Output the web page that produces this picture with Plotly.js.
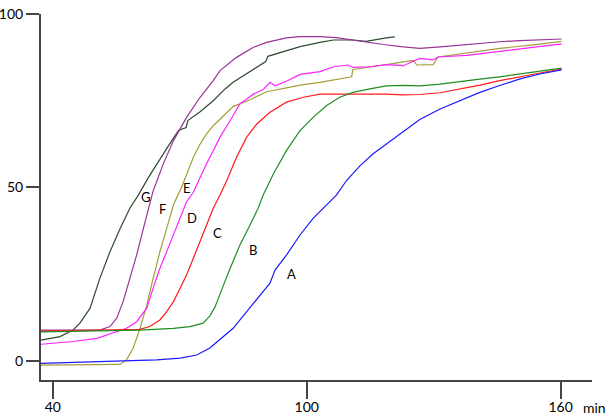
<!DOCTYPE html>
<html>
<head>
<meta charset="utf-8">
<script src="https://cdn.plot.ly/plotly-3.0.1.min.js"></script>
<style>html,body{margin:0;padding:0;background:#fff;}#chart{width:611px;height:416px;}</style>
</head>
<body>
<div id="chart"></div>
<script>
// Time (min) and signal values
var xA = [37.2, 45, 56.6, 64.5, 70.1, 74, 77.1, 79.5, 82.6, 85.8, 88.9, 91.3, 92.5, 95.2, 98.4, 101.5, 104.7, 107, 109.4, 112.6, 115.7, 118.8, 122, 126.7, 131.5, 136.2, 140.9, 145.6, 150.4, 155.1, 160.2];
var yA = [-0.7, -0.4, 0, 0.3, 0.8, 1.7, 3.7, 6.1, 9.4, 14.2, 19, 22.4, 26.2, 30.5, 36.3, 41.1, 45, 47.8, 52, 56.3, 59.7, 62.5, 65.2, 69.6, 72.6, 75.1, 77.4, 79.4, 81.3, 82.7, 83.9];

var xB = [37.2, 50, 60.6, 68.5, 72.4, 75.5, 77.1, 78.3, 79.5, 80.7, 81.9, 84.2, 86.6, 88.5, 89.7, 92.1, 95.2, 98.4, 101.5, 104.7, 107.8, 110.9, 114.9, 118.8, 122.8, 126.7, 131.5, 136.2, 140.9, 145.6, 150.4, 155.1, 160.2];
var yB = [8.4, 8.7, 8.9, 9.4, 9.9, 10.9, 13, 15.5, 19.5, 23, 26.7, 33.4, 39.2, 44, 47.8, 53.9, 60.6, 66.4, 70.2, 73.6, 76, 77.4, 78.4, 79.3, 79.4, 79.3, 79.8, 80.4, 81.2, 81.9, 82.7, 83.5, 84.4];

var xC = [37.2, 50, 60.6, 62.9, 65.3, 66.9, 68.5, 70.1, 71.6, 73.2, 74.8, 76.3, 77.9, 79.5, 81.1, 83.4, 85.8, 88.2, 91.3, 95.2, 99.2, 103.1, 107, 110.9, 114.9, 118.8, 122.8, 126.7, 131.5, 136.2, 140.9, 145.6, 150.4, 155.1, 160.2];
var yC = [8.6, 8.9, 9.1, 9.9, 11.8, 14.2, 17.1, 21, 24.8, 29.6, 34.4, 39.2, 44, 47.8, 52, 58.7, 64.5, 68.3, 71.7, 74.6, 76, 76.9, 76.9, 77.1, 76.9, 76.9, 76.7, 76.8, 77.3, 78.3, 79.5, 80.8, 82, 83, 84.1];

var xD = [37.2, 44.8, 50.4, 54.3, 57.4, 59.8, 62.2, 63.7, 65.3, 66.9, 68.5, 70.1, 71.6, 73.2, 74.8, 76.3, 77.9, 79.5, 81.9, 84.2, 87.4, 89.7, 91.3, 92.5, 95.2, 98.4, 103.1, 106.3, 109.8, 110.9, 114.9, 118.8, 122.8, 125.2, 126.7, 129.9, 131, 137.8, 145.6, 153.5, 160.2];
var yD = [4.8, 5.6, 6.5, 8, 9.4, 11.3, 15.2, 21, 26.7, 31.5, 36.3, 41.1, 45.9, 48.6, 52.9, 56.8, 60.6, 64.5, 69.3, 74.1, 76.9, 78.2, 80.3, 79.3, 80.6, 82.6, 83.4, 84.8, 85.3, 84.6, 84.8, 85.4, 85.1, 86.5, 87.2, 86.8, 87.6, 88.1, 89.3, 90.4, 91.4];

var xE = [37.2, 50, 55.9, 57.4, 59, 60.6, 62.2, 63.7, 65.3, 66.9, 68.5, 70.4, 71.6, 73.2, 74.8, 76.3, 77.9, 79.9, 82.6, 86.6, 90.5, 95.2, 98.4, 103.1, 106.3, 110.6, 110.9, 114.9, 118.8, 122.8, 125.2, 126, 129.9, 131, 137.8, 145.6, 153.5, 160.2];
var yE = [-1.2, -1.2, -1.0, 0.3, 3.7, 9.4, 16.1, 23.8, 31.5, 38.2, 45, 50, 53.9, 58.7, 62.5, 65.4, 67.8, 70.2, 73.3, 75.3, 77.6, 78.7, 79.5, 80.3, 81, 81.9, 84, 84.6, 85.4, 86.2, 86.6, 85.3, 85.4, 87.6, 88.7, 90.1, 91.1, 92.1];

var xF = [37.2, 51.1, 53.5, 55.1, 56.6, 58.2, 59.8, 61.4, 62.9, 63.7, 66.1, 68.5, 71.6, 74.8, 77.9, 79.5, 83.4, 87.4, 90.5, 95.2, 98.4, 103.1, 107, 110.2, 114.9, 118.1, 122.8, 126.7, 131.5, 136.2, 140.9, 145.6, 150.4, 155.1, 160.2];
var yF = [8.9, 8.9, 9.9, 12.3, 17.1, 23.8, 30.5, 38.2, 45, 49, 56.8, 63.5, 70.2, 76, 80.8, 83.7, 87.5, 90.4, 91.8, 93.1, 93.5, 93.5, 93.2, 92.6, 91.9, 91.2, 90.5, 90.1, 90.5, 91, 91.6, 92, 92.3, 92.6, 92.8];

var xG = [37.2, 41.7, 44.8, 46.4, 48.8, 49.6, 51.1, 53.5, 55.9, 58.2, 60.2, 62.6, 65, 67.3, 69.7, 71.5, 71.9, 74.8, 77.9, 80.7, 82.6, 85.8, 90.3, 90.8, 95.2, 98.4, 103.1, 106.3, 110.9, 114, 118.8, 120.8];
var yG = [6.0, 7.0, 8.9, 10.9, 15.2, 18.1, 23.8, 31.5, 38.2, 44, 47.8, 52.9, 57.7, 62, 66.4, 67.3, 69.3, 71.8, 75, 78.4, 80.3, 82.8, 86.3, 87.8, 89.4, 90.6, 91.8, 92.5, 92.5, 92.1, 93.1, 93.4];

var seriesNames = ['A', 'B', 'C', 'D', 'E', 'F', 'G'];
var xTicks = [40, 100, 160];
var yTicks = [0, 50, 100];

var colors = ['#1a1aff', '#1f8f1f', '#ff1a1a', '#ff22ff', '#a39c3a', '#993399', '#2c4a2c'];
var xs = [xA, xB, xC, xD, xE, xF, xG];
var ys = [yA, yB, yC, yD, yE, yF, yG];

var traces = [];
for (var i = 6; i >= 0; i--) {
  traces.push({
    x: xs[i], y: ys[i], name: seriesNames[i],
    type: 'scatter', mode: 'lines',
    line: {color: colors[i], width: 1.2},
    hoverinfo: 'skip'
  });
}

var labelFont = {family: 'Lato, "Liberation Sans", sans-serif', size: 13, color: '#000'};
var labelPos = {A: [96.5, 25.1], B: [87.3, 32.0], C: [79.0, 36.9], D: [72.9, 41.2], E: [71.7, 49.9], F: [66.0, 43.8], G: [62.0, 47.3]};
var annotations = seriesNames.map(function (n) {
  return {x: labelPos[n][0], y: labelPos[n][1], xref: 'x', yref: 'y', text: n,
          showarrow: false, font: labelFont, xanchor: 'center', yanchor: 'middle'};
});
annotations.push({x: 1.004, y: -0.074, xref: 'paper', yref: 'paper', text: 'min',
  showarrow: false, font: {family: 'Lato, "Liberation Sans", sans-serif', size: 14, color: '#000'},
  xanchor: 'center', yanchor: 'middle'});

var axisCommon = {
  showline: true, linecolor: '#444', linewidth: 2,
  ticks: 'outside', tickcolor: '#444', tickwidth: 2,
  showgrid: false, zeroline: false, fixedrange: true,
  tickfont: {family: 'Lato, "Liberation Sans", sans-serif', size: 14, color: '#000'}
};

var layout = {
  width: 611, height: 416,
  margin: {l: 41, r: 19, t: 14, b: 36},
  paper_bgcolor: '#fff', plot_bgcolor: '#fff',
  showlegend: false,
  xaxis: Object.assign({}, axisCommon, {range: [37.2, 167.4], tickvals: xTicks, ticklen: 17, ticklabelstandoff: -4}),
  yaxis: Object.assign({}, axisCommon, {range: [-5.5, 100], tickvals: yTicks, ticklen: 13}),
  annotations: annotations
};

Plotly.newPlot('chart', traces, layout, {staticPlot: true, displayModeBar: false});
</script>
</body>
</html>
